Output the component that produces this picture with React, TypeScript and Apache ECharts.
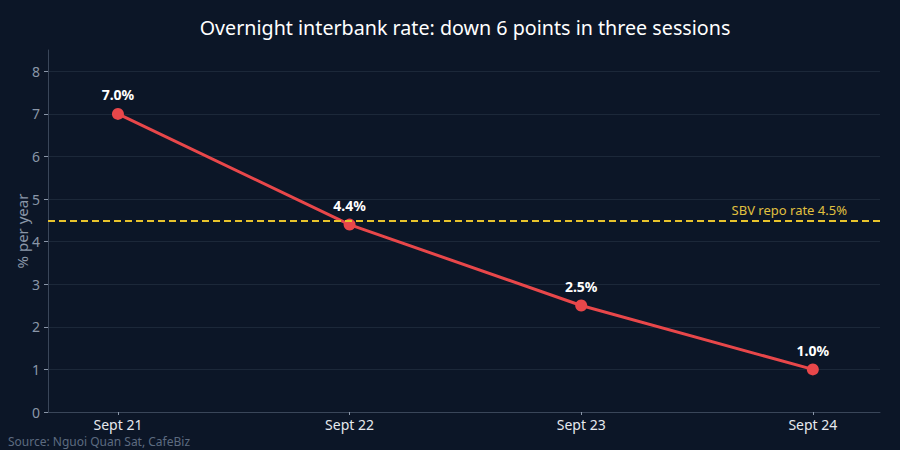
import React, { useEffect, useRef } from "react";
import * as echarts from "echarts";

const categories = ["Sept 21", "Sept 22", "Sept 23", "Sept 24"];
const rates = [7.0, 4.4, 2.5, 1.0];
const repoRate = 4.5;
const yTicks = [0, 1, 2, 3, 4, 5, 6, 7, 8];

const FONT = "Noto Sans";

export default function App() {
  const ref = useRef<HTMLDivElement>(null);
  useEffect(() => {
    document.body.style.margin = "0";
    const chart = echarts.init(ref.current!, null, { renderer: "svg" });
    chart.setOption({
      animation: false,
      backgroundColor: "#0c1627",
      textStyle: { fontFamily: FONT },
      title: {
        text: "Overnight interbank rate: down 6 points in three sessions",
        left: 460,
        textAlign: "center",
        top: 12,
        textStyle: { color: "#ffffff", fontSize: 19.7, fontWeight: "normal", fontFamily: FONT },
      },
      graphic: [
        {
          type: "text",
          left: 8,
          top: 435,
          style: { text: "Source: Nguoi Quan Sat, CafeBiz", fill: "#5d6b80", fontSize: 12, fontFamily: FONT },
        },
      ],
      grid: { left: 48, right: 20, top: 50, bottom: 38 },
      xAxis: {
        type: "value",
        min: -0.302,
        max: 3.29,
        splitLine: { show: false },
        axisLine: { show: true, onZero: false, lineStyle: { color: "#3a4659", width: 1 } },
        axisTick: { show: true, customValues: [0, 1, 2, 3], length: 3, lineStyle: { color: "#8a96a8" } },
        axisLabel: {
          customValues: [0, 1, 2, 3],
          formatter: (v: number) => categories[Math.round(v)] ?? "",
          color: "#e6e9ee",
          fontSize: 14,
          margin: 5,
          fontFamily: FONT,
        },
      },
      yAxis: {
        type: "value",
        min: 0,
        max: 8.5,
        name: "% per year",
        nameLocation: "middle",
        nameMoveOverlap: false,
        nameGap: 19,
        nameTextStyle: { color: "#8a96a8", fontSize: 15, fontFamily: FONT },
        axisLine: { show: true, onZero: false, lineStyle: { color: "#3a4659", width: 1 } },
        axisTick: { show: true, customValues: yTicks, length: 4, lineStyle: { color: "#8a96a8" } },
        axisLabel: { customValues: yTicks, color: "#8a96a8", fontSize: 14, margin: 8, fontFamily: FONT },
        splitLine: { show: true, customValues: yTicks, lineStyle: { color: "#1c2839", width: 1 } },
      },
      series: [
        {
          type: "line",
          data: rates.map((v, i) => [i, v]),
          lineStyle: { color: "#e8474a", width: 3 },
          itemStyle: { color: "#e8474a" },
          symbol: "circle",
          symbolSize: 12,
          label: {
            show: true,
            position: "top",
            distance: 6,
            formatter: (p: any) => p.value[1].toFixed(1) + "%",
            color: "#ffffff",
            fontWeight: "bold",
            fontSize: 14,
            fontFamily: FONT,
          },
          markLine: {
            silent: true,
            symbol: "none",
            data: [{ yAxis: repoRate }],
            lineStyle: { color: "#e8c32c", type: [7, 4], width: 2 },
            label: {
              show: true,
              position: "insideEndTop",
              formatter: "SBV repo rate 4.5%",
              color: "#e0c040",
              fontSize: 13,
              distance: [33, 4],
              fontFamily: FONT,
            },
          },
          z: 3,
        },
      ],
    });
    return () => chart.dispose();
  }, []);
  return <div ref={ref} style={{ position: "absolute", left: 0, top: 0, width: 900, height: 450 }} />;
}
